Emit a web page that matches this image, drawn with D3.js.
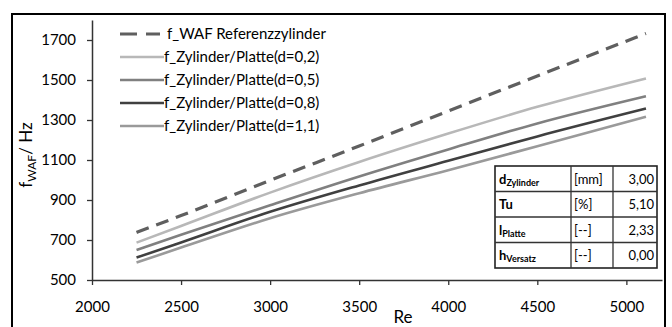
<!DOCTYPE html>
<html>
<head>
<meta charset="utf-8">
<script src="https://cdn.jsdelivr.net/npm/d3@7"></script>
<style>
    body { margin: 0; background: #fff; }
    text { font-family: Lato, "Open Sans", sans-serif; fill: #000; }
</style>
</head>
<body>
<svg id="chart" width="672" height="327"></svg>
<script>
    // Re values at which the curves were sampled
    var reValues = [2250, 2500, 3000, 3500, 4000, 4500, 5110];

    var seriesNames = [
        "f_WAF Referenzzylinder",
        "f_Zylinder/Platte(d=0,2)",
        "f_Zylinder/Platte(d=0,5)",
        "f_Zylinder/Platte(d=0,8)",
        "f_Zylinder/Platte(d=1,1)"
    ];
    var refValues = [738, 822, 998, 1170, 1345, 1520, 1733];
    var d02Values = [687, 770, 937, 1090, 1232, 1366, 1508];
    var d05Values = [650, 726, 874, 1018, 1153, 1283, 1419];
    var d08Values = [612, 688, 841, 973, 1096, 1218, 1357];
    var d11Values = [587, 662, 809, 934, 1049, 1169, 1316];

    var xTicks = [2000, 2500, 3000, 3500, 4000, 4500, 5000];
    var yTicks = [500, 700, 900, 1100, 1300, 1500, 1700];

    var tableSymbols = ["d", "Tu", "l", "h"];
    var tableSubs = ["Zylinder", "", "Platte", "Versatz"];
    var tableUnits = ["[mm]", "[%]", "[--]", "[--]"];
    var tableValues = ["3,00", "5,10", "2,33", "0,00"];

    var colors = ["#5f5f5f", "#b8b8b8", "#808080", "#404040", "#9a9a9a"];

    var svg = d3.select("#chart");

    var plotLeft = 92, plotRight = 662, plotTop = 20, plotBottom = 280;

    var xScale = d3.scaleLinear().domain([2000, 5200]).range([plotLeft, plotRight]);
    var yScale = d3.scaleLinear().domain([500, 1800]).range([plotBottom, plotTop]);

    // outer frame
    svg.append("rect")
        .attr("x", 12).attr("y", 14)
        .attr("width", 653).attr("height", 330)
        .attr("fill", "none")
        .attr("stroke", "#000")
        .attr("stroke-width", 2);

    var xAxis = d3.axisBottom(xScale)
        .tickValues(xTicks)
        .tickFormat(d3.format("d"))
        .tickSizeInner(5)
        .tickSizeOuter(0)
        .tickPadding(16);
    var gx = svg.append("g")
        .attr("transform", "translate(0," + plotBottom + ")")
        .call(xAxis);

    var yAxis = d3.axisLeft(yScale)
        .tickValues(yTicks)
        .tickFormat(d3.format("d"))
        .tickSizeInner(5)
        .tickSizeOuter(0)
        .tickPadding(11);
    var gy = svg.append("g")
        .attr("transform", "translate(" + plotLeft + ",0)")
        .call(yAxis);

    [gx, gy].forEach(function (g) {
        g.select(".domain").attr("stroke", "#333").attr("stroke-width", 1.5);
        g.selectAll(".tick line").attr("stroke", "#333").attr("stroke-width", 1.3);
        g.selectAll(".tick text")
            .style("font-family", "Lato, sans-serif")
            .style("font-size", "15px")
            .attr("fill", "#000");
    });

    // axis titles
    svg.append("text")
        .attr("x", 403).attr("y", 323)
        .attr("text-anchor", "middle")
        .style("font-size", "17px")
        .text("Re");

    var yTitle = svg.append("text")
        .attr("transform", "translate(32,155) rotate(-90)")
        .attr("text-anchor", "middle")
        .style("font-size", "17px");
    yTitle.append("tspan").text("f");
    yTitle.append("tspan").attr("dy", 4).style("font-size", "12px").text("WAF");
    yTitle.append("tspan").attr("dy", -4).text("/ Hz");

    // curves
    var allSeries = [refValues, d02Values, d05Values, d08Values, d11Values];
    var curve = d3.line()
        .x(function (d, i) { return xScale(reValues[i]); })
        .y(function (d) { return yScale(d); })
        .curve(d3.curveMonotoneX);

    svg.append("g").selectAll("path")
        .data(allSeries)
        .enter()
        .append("path")
        .attr("d", curve)
        .attr("fill", "none")
        .attr("stroke", function (d, i) { return colors[i]; })
        .attr("stroke-width", function (d, i) { return i === 0 ? 3.2 : 2.6; })
        .attr("stroke-dasharray", function (d, i) { return i === 0 ? "13,8" : null; });

    // legend
    var legend = svg.append("g").selectAll("g")
        .data(seriesNames)
        .enter()
        .append("g")
        .attr("transform", function (d, i) { return "translate(0," + (34 + i * 23) + ")"; });

    legend.append("line")
        .attr("x1", 120)
        .attr("x2", function (d, i) { return i === 0 ? 160 : 164; })
        .attr("y1", 0).attr("y2", 0)
        .attr("stroke", function (d, i) { return colors[i]; })
        .attr("stroke-width", function (d, i) { return i === 0 ? 3.2 : 2.6; })
        .attr("stroke-dasharray", function (d, i) { return i === 0 ? "17,9" : null; });

    legend.append("text")
        .attr("x", function (d, i) { return i === 0 ? 167 : 164; })
        .attr("y", 5)
        .style("font-size", "15px")
        .text(function (d) { return d; });

    // parameter table
    var colX = [495, 571, 613, 657];
    var rowY = d3.range(5).map(function (i) { return 166 + i * 25.5; });
    var table = svg.append("g");

    table.append("rect")
        .attr("x", colX[0]).attr("y", rowY[0])
        .attr("width", colX[3] - colX[0]).attr("height", rowY[4] - rowY[0])
        .attr("fill", "#fff")
        .attr("stroke", "#222")
        .attr("stroke-width", 1.6);

    table.selectAll(".hline")
        .data(rowY.slice(1, 4))
        .enter()
        .append("line")
        .attr("x1", colX[0]).attr("x2", colX[3])
        .attr("y1", function (d) { return d; }).attr("y2", function (d) { return d; })
        .attr("stroke", "#333").attr("stroke-width", 1.3);

    table.selectAll(".vline")
        .data(colX.slice(1, 3))
        .enter()
        .append("line")
        .attr("x1", function (d) { return d; }).attr("x2", function (d) { return d; })
        .attr("y1", rowY[0]).attr("y2", rowY[4])
        .attr("stroke", "#333").attr("stroke-width", 1.3);

    var rows = table.selectAll(".row")
        .data(tableSymbols)
        .enter()
        .append("g")
        .attr("transform", function (d, i) { return "translate(0," + (rowY[i] + 17.5) + ")"; });

    var sym = rows.append("text")
        .attr("x", colX[0] + 4)
        .style("font-size", "13px")
        .style("font-weight", "bold");
    sym.append("tspan").text(function (d) { return d; });
    sym.append("tspan")
        .attr("dy", 2)
        .style("font-size", "9px")
        .text(function (d, i) { return tableSubs[i]; });

    rows.append("text")
        .attr("x", colX[1] + 3)
        .style("font-size", "13px")
        .text(function (d, i) { return tableUnits[i]; });

    rows.append("text")
        .attr("x", colX[3] - 3)
        .attr("text-anchor", "end")
        .style("font-size", "13px")
        .text(function (d, i) { return tableValues[i]; });
</script>
</body>
</html>
